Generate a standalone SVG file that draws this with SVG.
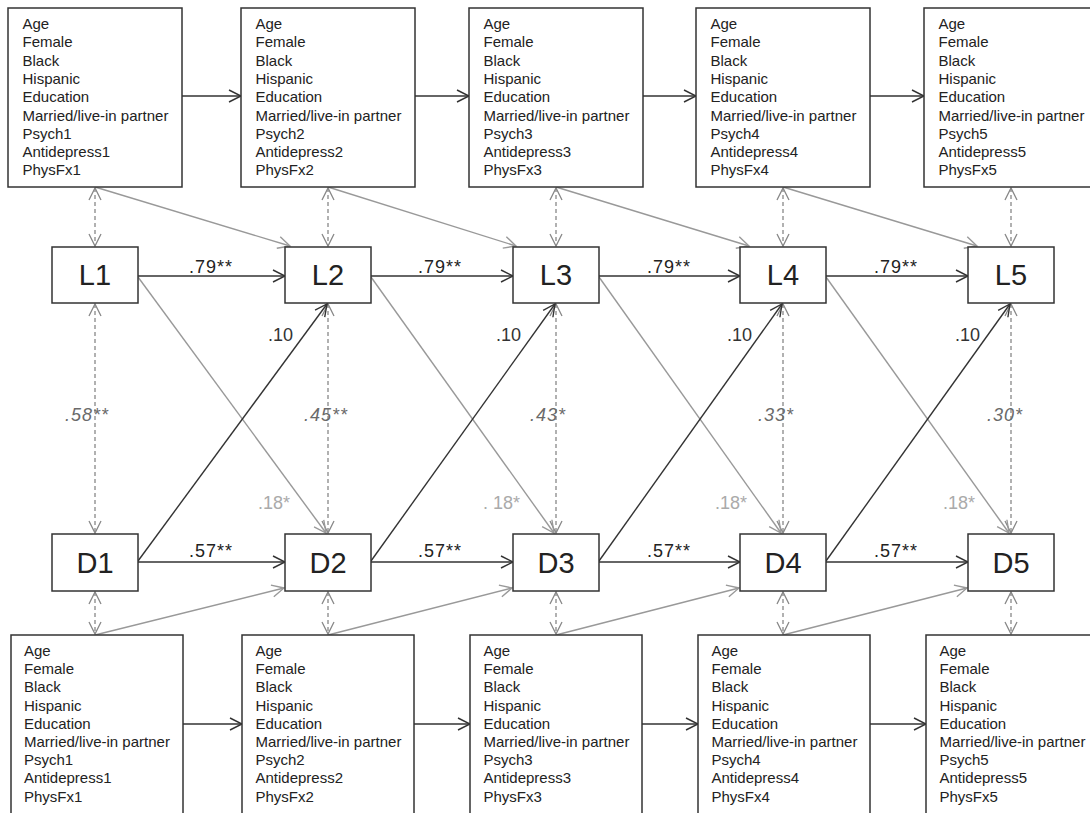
<svg xmlns="http://www.w3.org/2000/svg" width="1090" height="813" viewBox="0 0 1090 813">
<style>
.box{fill:#fff;stroke:#333;stroke-width:1.5}
.vt{font-family:"Liberation Sans",Arial,sans-serif;font-size:15px;fill:#222}
.big{font-family:"Liberation Sans",Arial,sans-serif;font-size:29px;fill:#222;text-anchor:middle}
.blk{stroke:#333;stroke-width:1.4;fill:none}
.gry{stroke:#999;stroke-width:1.4;fill:none}
.dsh{stroke:#888;stroke-width:1.3;fill:none;stroke-dasharray:4,3}
.lb{font-family:"Liberation Sans",Arial,sans-serif;font-size:18px;fill:#222;text-anchor:middle;letter-spacing:1px}
.lt{font-family:"Liberation Sans",Arial,sans-serif;font-size:18px;fill:#333;text-anchor:end}
.li{font-family:"Liberation Sans",Arial,sans-serif;font-size:18px;fill:#6a6a6a;font-style:italic;text-anchor:middle;letter-spacing:1px}
.lg{font-family:"Liberation Sans",Arial,sans-serif;font-size:18px;fill:#aaa;text-anchor:end}
</style>
<defs>
<marker id="ab" markerUnits="userSpaceOnUse" markerWidth="16" markerHeight="16" viewBox="-14 -8 16 16" refX="0" refY="0" orient="auto"><path d="M-12,-6 L0,0 L-12,6" fill="none" stroke="#333" stroke-width="1.4"/></marker>
<marker id="ag" markerUnits="userSpaceOnUse" markerWidth="16" markerHeight="16" viewBox="-14 -8 16 16" refX="0" refY="0" orient="auto"><path d="M-12,-6 L0,0 L-12,6" fill="none" stroke="#999" stroke-width="1.4"/></marker>
<marker id="ad" markerUnits="userSpaceOnUse" markerWidth="16" markerHeight="16" viewBox="-14 -8 16 16" refX="0" refY="0" orient="auto-start-reverse"><path d="M-12,-6 L0,0 L-12,6" fill="none" stroke="#888" stroke-width="1.3"/></marker>
</defs>

<g id="connectors">
<line class="blk" x1="182" y1="96" x2="241" y2="96" marker-end="url(#ab)"/>
<line class="blk" x1="415" y1="96" x2="469" y2="96" marker-end="url(#ab)"/>
<line class="blk" x1="643" y1="96" x2="696" y2="96" marker-end="url(#ab)"/>
<line class="blk" x1="870" y1="96" x2="924" y2="96" marker-end="url(#ab)"/>
<line class="blk" x1="183" y1="724" x2="242" y2="724" marker-end="url(#ab)"/>
<line class="blk" x1="414" y1="724" x2="470" y2="724" marker-end="url(#ab)"/>
<line class="blk" x1="642" y1="724" x2="698" y2="724" marker-end="url(#ab)"/>
<line class="blk" x1="870" y1="724" x2="926" y2="724" marker-end="url(#ab)"/>
<line class="dsh" x1="95" y1="188" x2="95" y2="246" marker-start="url(#ad)" marker-end="url(#ad)"/>
<line class="dsh" x1="328" y1="188" x2="328" y2="246" marker-start="url(#ad)" marker-end="url(#ad)"/>
<line class="dsh" x1="556" y1="188" x2="556" y2="246" marker-start="url(#ad)" marker-end="url(#ad)"/>
<line class="dsh" x1="783" y1="188" x2="783" y2="246" marker-start="url(#ad)" marker-end="url(#ad)"/>
<line class="dsh" x1="1011" y1="188" x2="1011" y2="246" marker-start="url(#ad)" marker-end="url(#ad)"/>
<line class="gry" x1="95" y1="187" x2="290" y2="246" marker-end="url(#ag)"/>
<line class="gry" x1="328" y1="187" x2="516" y2="246" marker-end="url(#ag)"/>
<line class="gry" x1="556" y1="187" x2="749" y2="246" marker-end="url(#ag)"/>
<line class="gry" x1="783" y1="187" x2="977" y2="246" marker-end="url(#ag)"/>
<line class="blk" x1="138" y1="276" x2="285" y2="276" marker-end="url(#ab)"/>
<line class="blk" x1="371" y1="276" x2="513" y2="276" marker-end="url(#ab)"/>
<line class="blk" x1="599" y1="276" x2="740" y2="276" marker-end="url(#ab)"/>
<line class="blk" x1="826" y1="276" x2="968" y2="276" marker-end="url(#ab)"/>
<line class="dsh" x1="95" y1="304" x2="95" y2="533" marker-start="url(#ad)" marker-end="url(#ad)"/>
<line class="dsh" x1="328" y1="304" x2="328" y2="533" marker-start="url(#ad)" marker-end="url(#ad)"/>
<line class="dsh" x1="556" y1="304" x2="556" y2="533" marker-start="url(#ad)" marker-end="url(#ad)"/>
<line class="dsh" x1="783" y1="304" x2="783" y2="533" marker-start="url(#ad)" marker-end="url(#ad)"/>
<line class="dsh" x1="1011" y1="304" x2="1011" y2="533" marker-start="url(#ad)" marker-end="url(#ad)"/>
<line class="gry" x1="138" y1="277" x2="326" y2="533" marker-end="url(#ag)"/>
<line class="gry" x1="371" y1="277" x2="554" y2="533" marker-end="url(#ag)"/>
<line class="gry" x1="599" y1="277" x2="781" y2="533" marker-end="url(#ag)"/>
<line class="gry" x1="826" y1="277" x2="1009" y2="533" marker-end="url(#ag)"/>
<line class="blk" x1="138" y1="561" x2="327" y2="304" marker-end="url(#ab)"/>
<line class="blk" x1="371" y1="561" x2="555" y2="304" marker-end="url(#ab)"/>
<line class="blk" x1="599" y1="561" x2="782" y2="304" marker-end="url(#ab)"/>
<line class="blk" x1="826" y1="561" x2="1010" y2="304" marker-end="url(#ab)"/>
<line class="blk" x1="138" y1="562" x2="285" y2="562" marker-end="url(#ab)"/>
<line class="blk" x1="371" y1="562" x2="513" y2="562" marker-end="url(#ab)"/>
<line class="blk" x1="599" y1="562" x2="740" y2="562" marker-end="url(#ab)"/>
<line class="blk" x1="826" y1="562" x2="968" y2="562" marker-end="url(#ab)"/>
<line class="dsh" x1="95" y1="592" x2="95" y2="634" marker-start="url(#ad)" marker-end="url(#ad)"/>
<line class="dsh" x1="328" y1="592" x2="328" y2="634" marker-start="url(#ad)" marker-end="url(#ad)"/>
<line class="dsh" x1="556" y1="592" x2="556" y2="634" marker-start="url(#ad)" marker-end="url(#ad)"/>
<line class="dsh" x1="783" y1="592" x2="783" y2="634" marker-start="url(#ad)" marker-end="url(#ad)"/>
<line class="dsh" x1="1011" y1="592" x2="1011" y2="634" marker-start="url(#ad)" marker-end="url(#ad)"/>
<line class="gry" x1="95" y1="635" x2="284" y2="588" marker-end="url(#ag)"/>
<line class="gry" x1="328" y1="635" x2="512" y2="588" marker-end="url(#ag)"/>
<line class="gry" x1="556" y1="635" x2="739" y2="588" marker-end="url(#ag)"/>
<line class="gry" x1="783" y1="635" x2="967" y2="588" marker-end="url(#ag)"/>
</g>

<g id="labels">
<text class="lb" x="211" y="273">.79**</text>
<text class="lb" x="440" y="273">.79**</text>
<text class="lb" x="669" y="273">.79**</text>
<text class="lb" x="896" y="273">.79**</text>
<text class="lb" x="211" y="557">.57**</text>
<text class="lb" x="440" y="557">.57**</text>
<text class="lb" x="669" y="557">.57**</text>
<text class="lb" x="896" y="557">.57**</text>
<text class="lt" x="293" y="341">.10</text>
<text class="lt" x="521" y="341">.10</text>
<text class="lt" x="752" y="341">.10</text>
<text class="lt" x="980" y="341">.10</text>
<text class="li" x="87" y="421">.58**</text>
<text class="li" x="326" y="421">.45**</text>
<text class="li" x="548" y="421">.43*</text>
<text class="li" x="776" y="421">.33*</text>
<text class="li" x="1005" y="421">.30*</text>
<text class="lg" x="290" y="509">.18*</text>
<text class="lg" x="520" y="509">. 18*</text>
<text class="lg" x="747" y="509">.18*</text>
<text class="lg" x="975" y="509">.18*</text>
</g>

<g id="L1"><rect class="box" x="52" y="247" width="86" height="56"/><text class="big" x="95" y="285">L1</text></g>
<g id="L2"><rect class="box" x="285" y="247" width="86" height="56"/><text class="big" x="328" y="285">L2</text></g>
<g id="L3"><rect class="box" x="513" y="247" width="86" height="56"/><text class="big" x="556" y="285">L3</text></g>
<g id="L4"><rect class="box" x="740" y="247" width="86" height="56"/><text class="big" x="783" y="285">L4</text></g>
<g id="L5"><rect class="box" x="968" y="247" width="86" height="56"/><text class="big" x="1011" y="285">L5</text></g>

<g id="D1"><rect class="box" x="52" y="534" width="86" height="57"/><text class="big" x="95" y="573">D1</text></g>
<g id="D2"><rect class="box" x="285" y="534" width="86" height="57"/><text class="big" x="328" y="573">D2</text></g>
<g id="D3"><rect class="box" x="513" y="534" width="86" height="57"/><text class="big" x="556" y="573">D3</text></g>
<g id="D4"><rect class="box" x="740" y="534" width="86" height="57"/><text class="big" x="783" y="573">D4</text></g>
<g id="D5"><rect class="box" x="968" y="534" width="86" height="57"/><text class="big" x="1011" y="573">D5</text></g>

<g id="T1"><rect class="box" x="8" y="8" width="174" height="179"/>
<text class="vt"><tspan x="22.5" y="29">Age</tspan><tspan x="22.5" y="47.3">Female</tspan><tspan x="22.5" y="65.6">Black</tspan><tspan x="22.5" y="83.9">Hispanic</tspan><tspan x="22.5" y="102.2">Education</tspan><tspan x="22.5" y="120.5">Married/live-in partner</tspan><tspan x="22.5" y="138.8">Psych1</tspan><tspan x="22.5" y="157.1">Antidepress1</tspan><tspan x="22.5" y="175.4">PhysFx1</tspan></text></g>
<g id="T2"><rect class="box" x="241" y="8" width="174" height="179"/>
<text class="vt"><tspan x="255.5" y="29">Age</tspan><tspan x="255.5" y="47.3">Female</tspan><tspan x="255.5" y="65.6">Black</tspan><tspan x="255.5" y="83.9">Hispanic</tspan><tspan x="255.5" y="102.2">Education</tspan><tspan x="255.5" y="120.5">Married/live-in partner</tspan><tspan x="255.5" y="138.8">Psych2</tspan><tspan x="255.5" y="157.1">Antidepress2</tspan><tspan x="255.5" y="175.4">PhysFx2</tspan></text></g>
<g id="T3"><rect class="box" x="469" y="8" width="174" height="179"/>
<text class="vt"><tspan x="483.5" y="29">Age</tspan><tspan x="483.5" y="47.3">Female</tspan><tspan x="483.5" y="65.6">Black</tspan><tspan x="483.5" y="83.9">Hispanic</tspan><tspan x="483.5" y="102.2">Education</tspan><tspan x="483.5" y="120.5">Married/live-in partner</tspan><tspan x="483.5" y="138.8">Psych3</tspan><tspan x="483.5" y="157.1">Antidepress3</tspan><tspan x="483.5" y="175.4">PhysFx3</tspan></text></g>
<g id="T4"><rect class="box" x="696" y="8" width="174" height="179"/>
<text class="vt"><tspan x="710.5" y="29">Age</tspan><tspan x="710.5" y="47.3">Female</tspan><tspan x="710.5" y="65.6">Black</tspan><tspan x="710.5" y="83.9">Hispanic</tspan><tspan x="710.5" y="102.2">Education</tspan><tspan x="710.5" y="120.5">Married/live-in partner</tspan><tspan x="710.5" y="138.8">Psych4</tspan><tspan x="710.5" y="157.1">Antidepress4</tspan><tspan x="710.5" y="175.4">PhysFx4</tspan></text></g>
<g id="T5"><rect class="box" x="924" y="8" width="174" height="179"/>
<text class="vt"><tspan x="938.5" y="29">Age</tspan><tspan x="938.5" y="47.3">Female</tspan><tspan x="938.5" y="65.6">Black</tspan><tspan x="938.5" y="83.9">Hispanic</tspan><tspan x="938.5" y="102.2">Education</tspan><tspan x="938.5" y="120.5">Married/live-in partner</tspan><tspan x="938.5" y="138.8">Psych5</tspan><tspan x="938.5" y="157.1">Antidepress5</tspan><tspan x="938.5" y="175.4">PhysFx5</tspan></text></g>

<g id="B1"><rect class="box" x="11" y="635" width="172" height="200"/>
<text class="vt"><tspan x="24" y="656">Age</tspan><tspan x="24" y="674.2">Female</tspan><tspan x="24" y="692.4">Black</tspan><tspan x="24" y="710.6">Hispanic</tspan><tspan x="24" y="728.8">Education</tspan><tspan x="24" y="747">Married/live-in partner</tspan><tspan x="24" y="765.2">Psych1</tspan><tspan x="24" y="783.4">Antidepress1</tspan><tspan x="24" y="801.6">PhysFx1</tspan></text></g>
<g id="B2"><rect class="box" x="242" y="635" width="172" height="200"/>
<text class="vt"><tspan x="255.5" y="656">Age</tspan><tspan x="255.5" y="674.2">Female</tspan><tspan x="255.5" y="692.4">Black</tspan><tspan x="255.5" y="710.6">Hispanic</tspan><tspan x="255.5" y="728.8">Education</tspan><tspan x="255.5" y="747">Married/live-in partner</tspan><tspan x="255.5" y="765.2">Psych2</tspan><tspan x="255.5" y="783.4">Antidepress2</tspan><tspan x="255.5" y="801.6">PhysFx2</tspan></text></g>
<g id="B3"><rect class="box" x="470" y="635" width="172" height="200"/>
<text class="vt"><tspan x="483.5" y="656">Age</tspan><tspan x="483.5" y="674.2">Female</tspan><tspan x="483.5" y="692.4">Black</tspan><tspan x="483.5" y="710.6">Hispanic</tspan><tspan x="483.5" y="728.8">Education</tspan><tspan x="483.5" y="747">Married/live-in partner</tspan><tspan x="483.5" y="765.2">Psych3</tspan><tspan x="483.5" y="783.4">Antidepress3</tspan><tspan x="483.5" y="801.6">PhysFx3</tspan></text></g>
<g id="B4"><rect class="box" x="698" y="635" width="172" height="200"/>
<text class="vt"><tspan x="711.5" y="656">Age</tspan><tspan x="711.5" y="674.2">Female</tspan><tspan x="711.5" y="692.4">Black</tspan><tspan x="711.5" y="710.6">Hispanic</tspan><tspan x="711.5" y="728.8">Education</tspan><tspan x="711.5" y="747">Married/live-in partner</tspan><tspan x="711.5" y="765.2">Psych4</tspan><tspan x="711.5" y="783.4">Antidepress4</tspan><tspan x="711.5" y="801.6">PhysFx4</tspan></text></g>
<g id="B5"><rect class="box" x="926" y="635" width="172" height="200"/>
<text class="vt"><tspan x="939.5" y="656">Age</tspan><tspan x="939.5" y="674.2">Female</tspan><tspan x="939.5" y="692.4">Black</tspan><tspan x="939.5" y="710.6">Hispanic</tspan><tspan x="939.5" y="728.8">Education</tspan><tspan x="939.5" y="747">Married/live-in partner</tspan><tspan x="939.5" y="765.2">Psych5</tspan><tspan x="939.5" y="783.4">Antidepress5</tspan><tspan x="939.5" y="801.6">PhysFx5</tspan></text></g>
</svg>
